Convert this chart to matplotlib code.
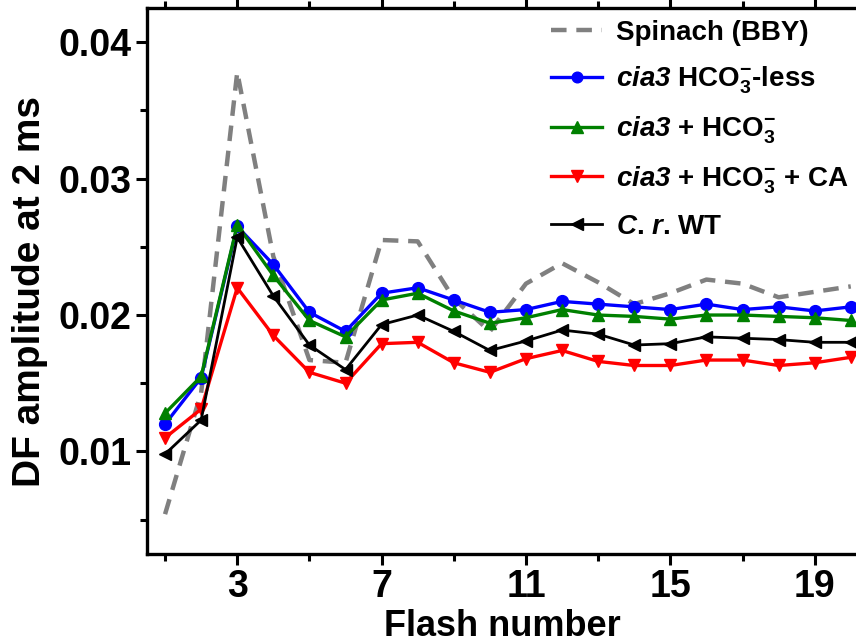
import matplotlib
matplotlib.use("Agg")
import matplotlib.pyplot as plt
from matplotlib.ticker import FixedLocator

plt.rcParams['font.family'] = ['Liberation Sans', 'DejaVu Sans']
plt.rcParams['font.weight'] = 'bold'
plt.rcParams['mathtext.fontset'] = 'custom'
plt.rcParams['mathtext.rm'] = 'Liberation Sans:bold'
plt.rcParams['mathtext.bf'] = 'Liberation Sans:bold'
plt.rcParams['mathtext.it'] = 'Liberation Sans:bold:italic'
plt.rcParams['mathtext.sf'] = 'Liberation Sans:bold:italic'
plt.rcParams['mathtext.default'] = 'rm'

flashes = list(range(1, 21))

spinach_bby = [0.0054, 0.0143, 0.0378, 0.0243, 0.0167, 0.0165, 0.0255, 0.0254, 0.0212,
               0.0188, 0.0223, 0.0238, 0.0224, 0.0208, 0.0216, 0.0226, 0.0223, 0.0213,
               0.0217, 0.0221]
cia3_hco3_less = [0.0120, 0.0154, 0.0265, 0.0237, 0.0202, 0.0188, 0.0216, 0.0220, 0.0211,
                  0.0202, 0.0204, 0.0210, 0.0208, 0.0206, 0.0204, 0.0208, 0.0204, 0.0206,
                  0.0203, 0.0206]
cia3_hco3 = [0.0128, 0.0155, 0.0266, 0.0229, 0.0196, 0.0184, 0.0211, 0.0216, 0.0203,
             0.0194, 0.0198, 0.0204, 0.0200, 0.0199, 0.0197, 0.0200, 0.0200, 0.0199,
             0.0198, 0.0196]
cia3_hco3_ca = [0.0110, 0.0131, 0.0220, 0.0185, 0.0158, 0.0150, 0.0179, 0.0180, 0.0165,
                0.0158, 0.0168, 0.0174, 0.0166, 0.0163, 0.0163, 0.0167, 0.0167, 0.0163,
                0.0165, 0.0169]
cr_wt = [0.0098, 0.0123, 0.0257, 0.0214, 0.0178, 0.0160, 0.0193, 0.0200, 0.0188,
         0.0174, 0.0181, 0.0189, 0.0186, 0.0178, 0.0179, 0.0184, 0.0183, 0.0182,
         0.0180, 0.0180]

labels = [
    "Spinach (BBY)",
    r"$\mathsf{cia3}$ HCO$_3^{-}$-less",
    r"$\mathsf{cia3}$ + HCO$_3^{-}$",
    r"$\mathsf{cia3}$ + HCO$_3^{-}$ + CA",
    r"$\mathsf{C}$. $\mathsf{r}$. WT",
]

major_x = [3, 7, 11, 15, 19]
minor_x = [1, 5, 9, 13, 17]
major_y = [0.01, 0.02, 0.03, 0.04]
minor_y = [0.005, 0.015, 0.025, 0.035]

fig = plt.figure(figsize=(8.56, 6.44), dpi=100)
ax = fig.add_axes([147 / 856, 1 - 554 / 644, 711 / 856, 546 / 644])

ax.plot(flashes, spinach_bby, color='#808080', lw=3.2, ls=(0, (3.5, 2.2)),
        label=labels[0], zorder=2)
ax.plot(flashes, cia3_hco3_less, color='#0000ff', lw=2.4, marker='o', ms=8.5,
        label=labels[1], zorder=3)
ax.plot(flashes, cia3_hco3, color='#008000', lw=2.4, marker='^', ms=9,
        label=labels[2], zorder=4)
ax.plot(flashes, cia3_hco3_ca, color='#ff0000', lw=2.4, marker='v', ms=9,
        label=labels[3], zorder=5)
ax.plot(flashes, cr_wt, color='#000000', lw=2.0, marker='<', ms=9,
        label=labels[4], zorder=6)

ax.set_xlim(0.5, 20.2)
ax.set_ylim(0.00248, 0.04251)

ax.xaxis.set_major_locator(FixedLocator(major_x))
ax.xaxis.set_minor_locator(FixedLocator(minor_x))
ax.yaxis.set_major_locator(FixedLocator(major_y))
ax.yaxis.set_minor_locator(FixedLocator(minor_y))
ax.set_xticklabels([str(v) for v in major_x])
ax.set_yticklabels(["%.2f" % v for v in major_y])

for s in ('left', 'bottom', 'top'):
    ax.spines[s].set_linewidth(2.4)
ax.spines['right'].set_visible(False)

ax.tick_params(which='major', direction='out', length=8, width=2.2,
               labelsize=27, pad=3, top=True)
ax.tick_params(which='minor', direction='out', length=5, width=2.2, top=True)

ax.set_xlabel("Flash number", fontsize=26, fontweight='bold', labelpad=3)
ax.set_ylabel("DF amplitude at 2 ms", fontsize=28, fontweight='bold')
ax.yaxis.set_label_coords(-0.139, 0.48)

leg = ax.legend(loc='upper right', bbox_to_anchor=(0.999, 0.993), frameon=False,
                fontsize=20, handlelength=1.85, handletextpad=0.5,
                labelspacing=0.66, borderaxespad=0.0, borderpad=0.3,
                markerscale=0.9)

fig.savefig("out.png", dpi=100)
